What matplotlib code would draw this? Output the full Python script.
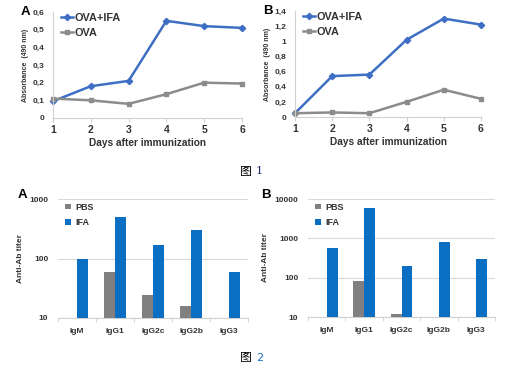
import numpy as np
import matplotlib
matplotlib.use("Agg")
import matplotlib.pyplot as plt
from matplotlib.ticker import FixedLocator, FuncFormatter, NullLocator

# --- data ---
days = [1, 2, 3, 4, 5, 6]
a_ova_ifa = [0.095, 0.18, 0.21, 0.55, 0.52, 0.51]
a_ova = [0.11, 0.10, 0.08, 0.135, 0.20, 0.195]
b_ova_ifa = [0.05, 0.54, 0.56, 1.02, 1.30, 1.22]
b_ova = [0.05, 0.06, 0.05, 0.20, 0.36, 0.24]

isotypes = ["IgM", "IgG1", "IgG2c", "IgG2b", "IgG3"]
c_pbs = [np.nan, 60, 24, 16, np.nan]
c_ifa = [100, 500, 170, 300, 60]
d_pbs = [np.nan, 80, 12, np.nan, np.nan]
d_ifa = [570, 6000, 200, 800, 300]

BLUE_LINE = "#3f6fc4"
GRAY_LINE = "#8c8c8c"
BLUE_BAR = "#0a6fc2"
GRAY_BAR = "#808080"
AX_COL = "#d0d0d0"
TXT = "#333333"
FONT = "Liberation Sans"

plt.rcParams["font.family"] = [FONT, "DejaVu Sans"]

W, H = 505, 365
fig = plt.figure(figsize=(W / 100, H / 100), dpi=100)


def px_axes(left, right, top, bottom):
    return fig.add_axes([left / W, 1 - bottom / H, (right - left) / W, (bottom - top) / H])


def comma(v, pos):
    s = ("%.1f" % v).rstrip("0").rstrip(".")
    return s.replace(".", ",")


def line_panel(ax, ifa, ova, ymax, step, letter):
    ax.plot(days, ifa, color=BLUE_LINE, lw=1.8, marker="D", ms=3.2, label="OVA+IFA", clip_on=False)
    ax.plot(days, ova, color=GRAY_LINE, lw=1.8, marker="s", ms=3.2, label="OVA", clip_on=False)
    ax.set_xlim(1, 6)
    ax.set_ylim(0, ymax)
    ax.yaxis.set_major_locator(FixedLocator(np.arange(0, ymax + 1e-9, step)))
    ax.yaxis.set_major_formatter(FuncFormatter(comma))
    for s in ["top", "right"]:
        ax.spines[s].set_visible(False)
    for s in ["left", "bottom"]:
        ax.spines[s].set_color(AX_COL)
        ax.spines[s].set_linewidth(0.8)
    ax.tick_params(axis="y", length=0, labelsize=6, pad=6)
    ax.tick_params(axis="x", length=3, color=AX_COL, labelsize=7.5, pad=2)
    for t in ax.get_xticklabels() + ax.get_yticklabels():
        t.set_fontweight("bold")
        t.set_color(TXT)
    ax.set_xlabel("Days after immunization", fontsize=7.3, fontweight="bold", color=TXT, labelpad=2)
    ax.set_ylabel("Absorbance  (490 nm)", fontsize=5, fontweight="bold", color=TXT, labelpad=3)
    leg = ax.legend(loc="upper left", bbox_to_anchor=(0.02, 1.03), frameon=False, fontsize=7.8,
                    handlelength=1.1, handletextpad=0.1, labelspacing=0.45, borderaxespad=0)
    for t in leg.get_texts():
        t.set_fontweight("bold")
        t.set_color(TXT)
    ax.text(-0.17, 1.0, letter, transform=ax.transAxes, fontsize=9.5, fontweight="bold", va="center")


def bar_panel(ax, pbs, ifa, ymax, letter, lx):
    x = np.arange(len(isotypes))
    bw = 0.29
    ax.set_yscale("log")
    ax.bar(x - bw / 2, pbs, bw, color=GRAY_BAR, label="PBS", zorder=3)
    ax.bar(x + bw / 2, ifa, bw, color=BLUE_BAR, label="IFA", zorder=3)
    ax.set_ylim(10, ymax)
    ax.set_xlim(-0.5, len(isotypes) - 0.5)
    ticks = [10 ** k for k in range(1, int(round(np.log10(ymax))) + 1)]
    ax.yaxis.set_major_locator(FixedLocator(ticks))
    ax.yaxis.set_minor_locator(NullLocator())
    ax.yaxis.set_major_formatter(FuncFormatter(lambda v, p: "%d" % v))
    ax.grid(axis="y", color="#d9d9d9", lw=0.8, zorder=0)
    for s in ["top", "right", "left"]:
        ax.spines[s].set_visible(False)
    ax.spines["bottom"].set_color(AX_COL)
    ax.spines["bottom"].set_linewidth(0.8)
    ax.set_xticks(x)
    ax.set_xticklabels(isotypes)
    ax.xaxis.set_minor_locator(FixedLocator(np.arange(-0.5, len(isotypes), 1.0)))
    ax.tick_params(axis="x", which="major", length=0, labelsize=6, pad=7)
    ax.tick_params(axis="x", which="minor", length=3, color=AX_COL)
    ax.tick_params(axis="y", length=0, labelsize=6, pad=7)
    for t in ax.get_xticklabels() + ax.get_yticklabels():
        t.set_fontweight("bold")
        t.set_color(TXT)
    ax.set_ylabel("Anti-Ab titer", fontsize=6, fontweight="bold", color=TXT, labelpad=4)
    leg = ax.legend(loc="upper left", bbox_to_anchor=(0.02, 1.0), frameon=False, fontsize=6.5,
                    handlelength=0.6, handleheight=0.6, handletextpad=0.5, labelspacing=0.75,
                    borderaxespad=0)
    for t in leg.get_texts():
        t.set_fontweight("bold")
        t.set_color(TXT)
    ax.text(lx, 1.03, letter, transform=ax.transAxes, fontsize=9.5, fontweight="bold", va="center")


ax1 = px_axes(53, 242, 12, 118)
line_panel(ax1, a_ova_ifa, a_ova, 0.6, 0.1, "A")
ax2 = px_axes(295, 481, 11, 117)
line_panel(ax2, b_ova_ifa, b_ova, 1.4, 0.2, "B")
ax3 = px_axes(58, 248, 199, 318)
bar_panel(ax3, c_pbs, c_ifa, 1000, "A", -0.21)
ax4 = px_axes(308, 495, 199, 317)
bar_panel(ax4, d_pbs, d_ifa, 10000, "B", -0.25)

cap_fam = ["Noto Sans CJK SC", "DejaVu Sans"]
fig.text(252 / W, 1 - 171 / H, "图", family=cap_fam, fontsize=8.5, ha="right", va="center")
fig.text(256 / W, 1 - 171 / H, "1", family=["DejaVu Serif"], fontsize=8, color="#1f2a6e", ha="left", va="center")
fig.text(252 / W, 1 - 358 / H, "图", family=cap_fam, fontsize=8.5, ha="right", va="center")
fig.text(256 / W, 1 - 358 / H, "2", family=["DejaVu Sans"], fontsize=8, color="#1b6fc8", ha="left", va="center")

fig.savefig("out.png", dpi=100)
